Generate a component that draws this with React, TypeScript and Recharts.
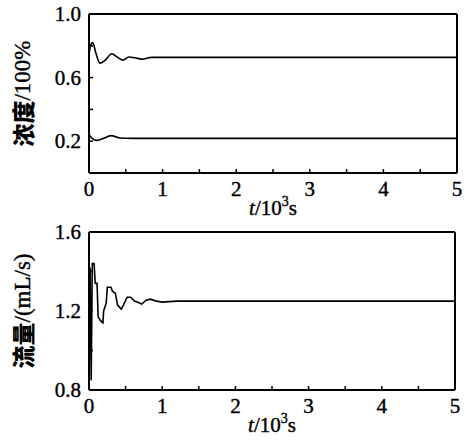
import React from "react";
import { LineChart, Line, XAxis, YAxis, Label, ReferenceLine } from "recharts";

// concentration panel (t in 10^3 s)
const concTime = [0, 0.02, 0.05, 0.09, 0.15, 0.22, 0.31, 0.38, 0.46, 0.54, 0.62, 0.72, 0.85, 1.0, 5.0];
const concHigh = [0.74, 0.8, 0.82, 0.76, 0.69, 0.71, 0.75, 0.73, 0.71, 0.73, 0.725, 0.716, 0.727, 0.727, 0.727];
const concLowTime = [0, 0.04, 0.1, 0.18, 0.3, 0.42, 0.6, 5.0];
const concLow = [0.24, 0.22, 0.205, 0.215, 0.235, 0.22, 0.218, 0.218];

// flow panel
const flowTime = [
  0, 0.015, 0.03, 0.045, 0.07, 0.085, 0.11, 0.125, 0.16, 0.19, 0.2, 0.235, 0.25, 0.3, 0.32, 0.36,
  0.39, 0.44, 0.47, 0.52, 0.57, 0.62, 0.66, 0.72, 0.78, 0.84, 0.92, 1.0, 1.2, 5.0,
];
const flowRate = [
  0.8, 1.42, 0.85, 1.44, 1.44, 1.34, 1.34, 1.17, 1.15, 1.14, 1.2, 1.24, 1.32, 1.32, 1.3, 1.29,
  1.23, 1.21, 1.23, 1.27, 1.27, 1.25, 1.245, 1.235, 1.255, 1.26, 1.25, 1.245, 1.25, 1.25,
];

const xTicks = [0, 0.5, 1, 1.5, 2, 2.5, 3, 3.5, 4, 4.5, 5];
const concTicks = [0.2, 0.4, 0.6, 0.8, 1.0];
const concLabels = [0.2, 0.6, 1.0];
const flowTicks = [0.8, 1.0, 1.2, 1.4, 1.6];
const flowLabels = [0.8, 1.2, 1.6];

const highData = concTime.map((t, i) => ({ t, v: concHigh[i] }));
const lowData = concLowTime.map((t, i) => ({ t, v: concLow[i] }));
const flowData = flowTime.map((t, i) => ({ t, v: flowRate[i] }));

const SERIF = "'Liberation Serif', 'DejaVu Serif', serif";
const CJK = "'Noto Sans CJK SC', sans-serif";
const serifStyle = { fontFamily: SERIF, fontSize: 21, fill: "#000", stroke: "#000", strokeWidth: 0.4 };

function XTick(props: any) {
  const { x, y, payload } = props;
  const v = payload.value;
  return (
    <g>
      <line x1={x} x2={x} y1={y} y2={y - 4} stroke="#000" strokeWidth={1.5} />
      {Number.isInteger(v) && (
        <text x={x} y={y + 23} textAnchor="middle" style={serifStyle}>
          {v}
        </text>
      )}
    </g>
  );
}

function makeYTick(labels: number[]) {
  return function YTick(props: any) {
    const { x, y, payload } = props;
    const v = payload.value;
    const show = labels.some((l) => Math.abs(l - v) < 1e-6);
    return (
      <g>
        <line x1={x} x2={x + 4} y1={y} y2={y} stroke="#000" strokeWidth={1.5} />
        {show && (
          <text x={x - 8} y={y + 7} textAnchor="end" style={serifStyle}>
            {v.toFixed(1)}
          </text>
        )}
      </g>
    );
  };
}

function XTitle(props: any) {
  const { viewBox } = props;
  const cx = viewBox.x + viewBox.width / 2;
  return (
    <text x={cx} y={viewBox.y + 42} textAnchor="middle" style={serifStyle}>
      <tspan fontStyle="italic">t</tspan>
      <tspan>/10</tspan>
      <tspan fontSize={14} dy={-9}>3</tspan>
      <tspan dy={9}>s</tspan>
    </text>
  );
}

function makeYTitle(cjk: string, rest: string) {
  return function YTitle(props: any) {
    const { viewBox } = props;
    const cx = 22;
    const cy = viewBox.y + viewBox.height / 2;
    return (
      <text
        x={cx}
        y={cy}
        transform={`rotate(-90 ${cx} ${cy})`}
        textAnchor="middle"
        dominantBaseline="central"
        fontSize={23}
        fill="#000"
      >
        <tspan style={{ fontFamily: CJK, fontWeight: 900 }}>{cjk}</tspan>
        <tspan style={{ fontFamily: SERIF, stroke: "#000", strokeWidth: 0.4 }}>{rest}</tspan>
      </text>
    );
  };
}

const axisLine = { stroke: "#000", strokeWidth: 2 };

export default function App() {
  return (
    <div style={{ position: "absolute", left: 0, top: 0, width: 465, height: 447, background: "#fff" }}>
      <div style={{ position: "absolute", left: 0, top: 0 }}>
        <LineChart width={465} height={222} margin={{ top: 14, right: 8, bottom: 0, left: 0 }}>
          <XAxis
            dataKey="t"
            type="number"
            domain={[0, 5]}
            ticks={xTicks}
            interval={0}
            height={49}
            tickSize={0}
            tickMargin={0}
            tickLine={false}
            tick={<XTick />}
            axisLine={axisLine}
            allowDuplicatedCategory={false}
          >
            <Label content={<XTitle />} />
          </XAxis>
          <YAxis
            type="number"
            domain={[0, 1]}
            ticks={concTicks}
            interval={0}
            width={89}
            tickSize={0}
            tickMargin={0}
            tickLine={false}
            tick={makeYTick(concLabels)}
            axisLine={axisLine}
          >
            <Label content={makeYTitle("浓度", "/100%")} />
          </YAxis>
          <ReferenceLine y={1} stroke="#000" strokeWidth={2} />
          <ReferenceLine x={5} stroke="#000" strokeWidth={2} />
          <Line data={highData} dataKey="v" type="monotone" stroke="#000" strokeWidth={1.6} dot={false} isAnimationActive={false} />
          <Line data={lowData} dataKey="v" type="monotone" stroke="#000" strokeWidth={1.6} dot={false} isAnimationActive={false} />
        </LineChart>
      </div>
      <div style={{ position: "absolute", left: 0, top: 215 }}>
        <LineChart width={465} height={232} margin={{ top: 17, right: 10, bottom: 0, left: 0 }}>
          <XAxis
            dataKey="t"
            type="number"
            domain={[0, 5]}
            ticks={xTicks}
            interval={0}
            height={57}
            tickSize={0}
            tickMargin={0}
            tickLine={false}
            tick={<XTick />}
            axisLine={axisLine}
          >
            <Label content={<XTitle />} />
          </XAxis>
          <YAxis
            type="number"
            domain={[0.8, 1.6]}
            ticks={flowTicks}
            interval={0}
            width={89}
            tickSize={0}
            tickMargin={0}
            tickLine={false}
            tick={makeYTick(flowLabels)}
            axisLine={axisLine}
          >
            <Label content={makeYTitle("流量", "/(mL/s)")} />
          </YAxis>
          <ReferenceLine y={1.6} stroke="#000" strokeWidth={2} />
          <ReferenceLine x={5} stroke="#000" strokeWidth={2} />
          <Line data={flowData} dataKey="v" type="linear" stroke="#000" strokeWidth={1.6} dot={false} isAnimationActive={false} />
        </LineChart>
      </div>
    </div>
  );
}
